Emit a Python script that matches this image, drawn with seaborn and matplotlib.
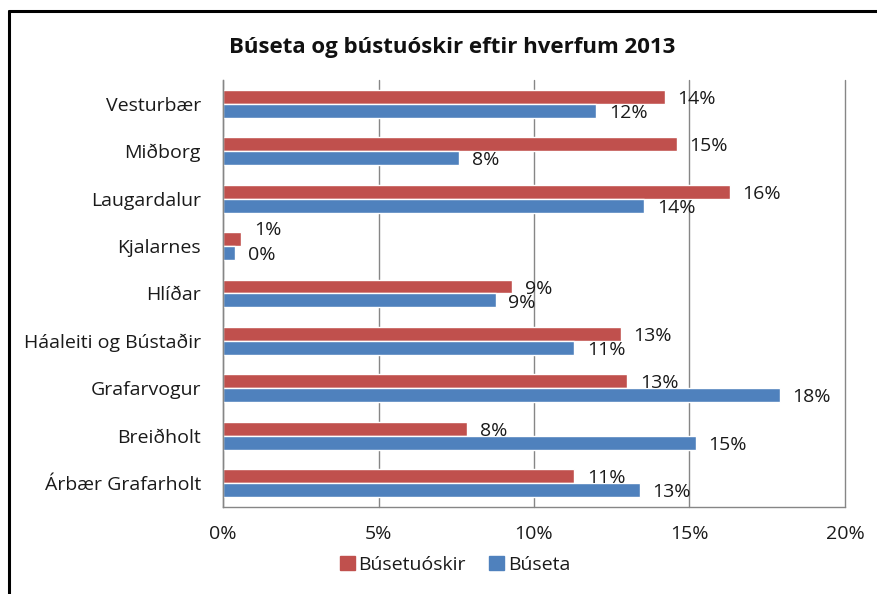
import matplotlib
matplotlib.use("Agg")
import matplotlib.pyplot as plt
from matplotlib.lines import Line2D
import pandas as pd
import seaborn as sns

# ─── Data ─────────────────────────────────────────────────────────────────────
districts = [
    "Vesturbær", "Miðborg", "Laugardalur", "Kjalarnes", "Hlíðar",
    "Háaleiti og Bústaðir", "Grafarvogur", "Breiðholt", "Árbær Grafarholt",
]
buseta_oskir = [14.2, 14.6, 16.3, 0.57, 9.3, 12.8, 13.0, 7.86, 11.3]
buseta = [12.0, 7.6, 13.55, 0.39, 8.77, 11.3, 17.9, 15.2, 13.4]
series_names = ["Búsetuóskir", "Búseta"]
colors = ["#C0504D", "#4F81BD"]
x_ticks = [0, 5, 10, 15, 20]

df = pd.DataFrame({
    "hverfi": districts * 2,
    "hlutfall": buseta_oskir + buseta,
    "rod": [series_names[0]] * len(districts) + [series_names[1]] * len(districts),
})

sns.set_theme(style="white")
plt.rcParams["font.family"] = ["Open Sans", "DejaVu Sans"]
text_col = "#1a1a1a"
grid_col = "#868686"
fs = 14

fig = plt.figure(figsize=(8.78, 5.94), dpi=100)
ax = fig.add_axes([223 / 878, 1 - 507 / 594, (845 - 223) / 878, (507 - 80) / 594])

sns.barplot(data=df, y="hverfi", x="hlutfall", hue="rod", order=districts,
            hue_order=series_names, palette=colors, width=0.59, orient="h",
            saturation=1, ax=ax, legend=False)

# data labels (Excel nudges the tiny Kjalarnes label upward to avoid a clash)
for i, name in enumerate(series_names):
    vals = buseta_oskir if i == 0 else buseta
    off = -0.1475 if i == 0 else 0.1475
    for j, v in enumerate(vals):
        dx, dy = 9, -1.5
        if v < 1 and i == 0:
            dx, dy = 10, 6.5
        ax.annotate(f"{round(v):.0f}%", (v, j + off), xytext=(dx, dy),
                    textcoords="offset points", va="center", ha="left",
                    fontsize=fs, color=text_col)

ax.set_xlim(0, 20)
ax.set_ylim(len(districts) - 0.5, -0.5)
ax.set_xticks(x_ticks)
ax.set_xticklabels([f"{t}%" for t in x_ticks], fontsize=fs, color=text_col)
ax.set_yticks(range(len(districts)))
ax.set_yticklabels(districts, fontsize=fs, color=text_col)
ax.set_yticks([k - 0.5 for k in range(len(districts) + 1)], minor=True)
ax.tick_params(axis="y", which="major", length=0, pad=16)
ax.tick_params(axis="y", which="minor", length=5, color=grid_col, width=1)
ax.tick_params(axis="x", length=5, color=grid_col, width=1, pad=8)
ax.set_xlabel("")
ax.set_ylabel("")
ax.xaxis.grid(True, color=grid_col, linewidth=1)
for gl in ax.get_xgridlines():
    gl.set_clip_on(False)
ax.set_axisbelow(True)
for s in ["top", "right"]:
    ax.spines[s].set_visible(False)
for s in ["left", "bottom"]:
    ax.spines[s].set_color(grid_col)
    ax.spines[s].set_linewidth(1)

fig.suptitle("Búseta og bústuóskir eftir hverfum 2013", x=452 / 878, y=1 - 47 / 594,
             va="center", fontsize=16, fontweight="bold", color="#111111")

handles = [plt.Rectangle((0, 0), 1, 1, color=c) for c in colors]
fig.legend(handles, series_names, loc="center", bbox_to_anchor=(455 / 878, 1 - 565 / 594),
           ncol=2, frameon=False, fontsize=fs, handlelength=0.75, handleheight=0.75,
           handletextpad=0.2, columnspacing=1.2, labelcolor=text_col)

# outer chart border (left + top)
fig.add_artist(Line2D([9 / 878, 9 / 878], [0, 1 - 11 / 594], color="black", linewidth=2.2,
                      transform=fig.transFigure))
fig.add_artist(Line2D([9 / 878, 1], [1 - 11 / 594, 1 - 11 / 594], color="black", linewidth=2.2,
                      transform=fig.transFigure))

fig.savefig("out.png", dpi=100)
